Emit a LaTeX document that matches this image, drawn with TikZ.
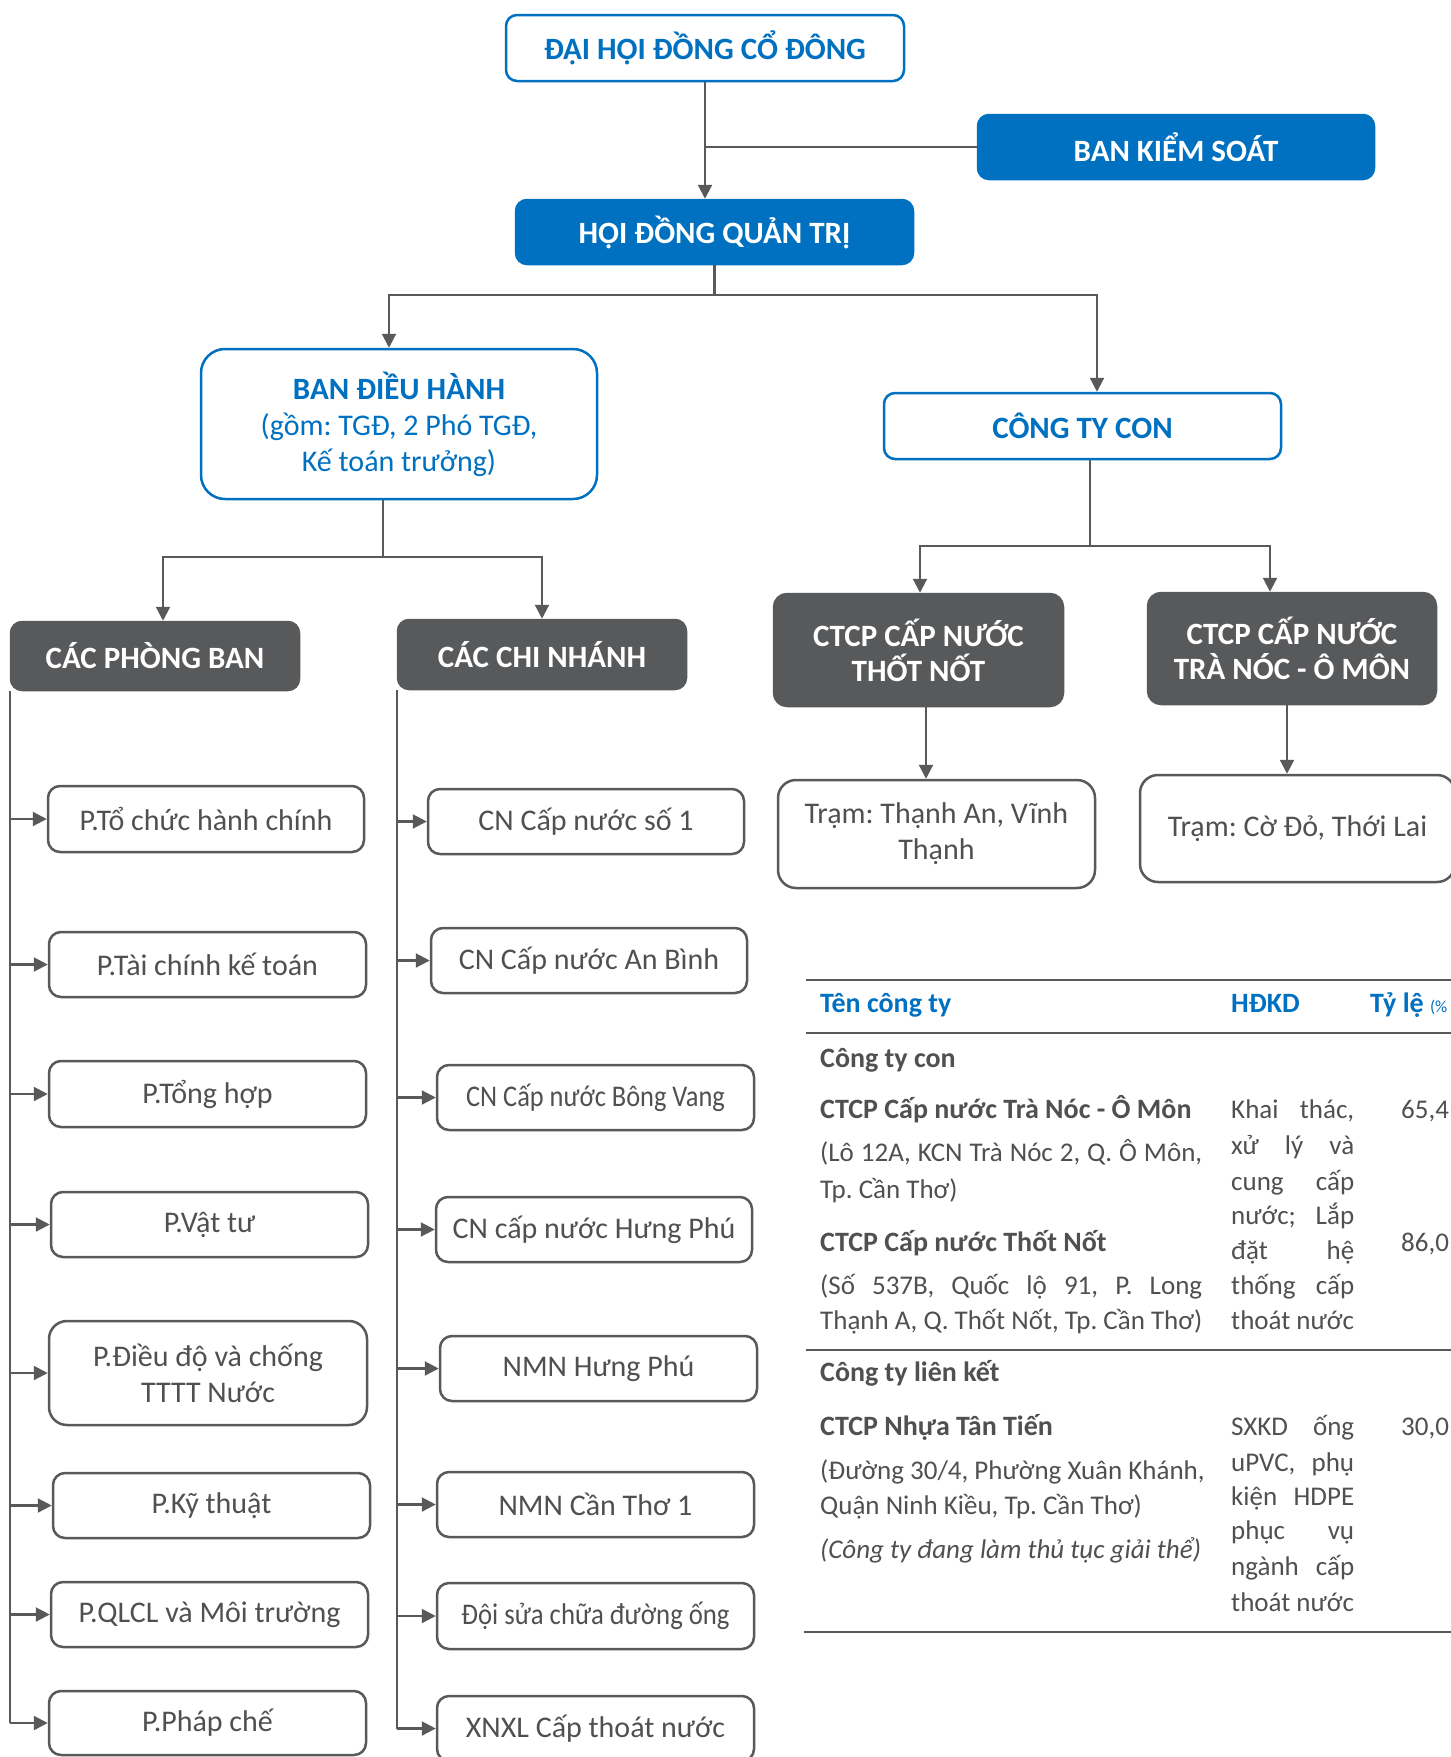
\documentclass[tikz,border=0pt]{standalone}
\usepackage{fontspec}
\setmainfont{Carlito}
\usetikzlibrary{arrows.meta,calc}
\definecolor{cblue}{HTML}{0070C0}
\definecolor{cgray}{HTML}{58595B}
\definecolor{tgray}{HTML}{505050}
\begin{document}
\frenchspacing
\begin{tikzpicture}[x=1pt,y=-1pt,
 conn/.style={draw=cgray,line width=2.2pt},
 arr/.style={conn,-{Triangle[length=14pt,width=14pt]}},
 bx/.style={rectangle,inner sep=0pt,align=center,line width=2.5pt},
 bluebox/.style={bx,draw=cblue,fill=white,text=cblue,rounded corners=11pt,font=\fontsize{31}{36}\selectfont\bfseries},
 bluefill/.style={bx,draw=cblue,fill=cblue,text=white,rounded corners=11pt,font=\fontsize{31}{36}\selectfont\bfseries},
 darkbox/.style={bx,draw=cgray,fill=cgray,text=white,rounded corners=13pt,font=\fontsize{31}{35}\selectfont\bfseries},
 wbox/.style={bx,draw=cgray,fill=white,text=tgray,rounded corners=12pt,font=\fontsize{30}{36}\selectfont},
 tbody/.style={anchor=west,inner sep=0pt,text=tgray,font=\fontsize{27}{34}\selectfont,text height=18pt,text depth=7pt},
 tbold/.style={tbody,font=\fontsize{28}{34}\selectfont\bfseries},
 thead/.style={tbold,text=cblue},
 tline/.style={draw=cgray,line width=2.5pt}
]
\fill[white] (0,0) rectangle (1451,1757);
\useasboundingbox (0,0) rectangle (1451,1757);

% top level
\node[bluebox,minimum width=398pt,minimum height=66pt] (dh) at (705,48) {ĐẠI HỘI ĐỒNG CỔ ĐÔNG};
\node[bluefill,minimum width=396pt,minimum height=64pt] (bks) at (1176,147) {BAN KIỂM SOÁT};
\node[bluefill,minimum width=397pt,minimum height=64pt] (hdqt) at (714.5,232) {HỘI ĐỒNG QUẢN TRỊ};
\node[bluebox,rounded corners=24pt,minimum width=396pt,minimum height=150pt,font=\fontsize{30}{36}\selectfont] (bdh) at (399,424)
  {{\fontsize{31}{36}\selectfont\bfseries BAN ĐIỀU HÀNH}\\(gồm: TGĐ, 2 Phó TGĐ,\\Kế toán trưởng)};
\node[bluebox,minimum width=397pt,minimum height=66pt] (cty) at (1082.5,426) {CÔNG TY CON};

\node[darkbox,rounded corners=11pt,minimum width=288pt,minimum height=68pt] (pb) at (155,656) {CÁC PHÒNG BAN};
\node[darkbox,rounded corners=11pt,minimum width=288pt,minimum height=69pt] (cn) at (542,654.5) {CÁC CHI NHÁNH};
\node[darkbox,minimum width=289pt,minimum height=112pt] (tn) at (918.5,650) {CTCP CẤP NƯỚC\\THỐT NỐT};
\node[darkbox,minimum width=288pt,minimum height=111pt] (tr) at (1292,648.5) {CTCP CẤP NƯỚC\\TRÀ NÓC - Ô MÔN};
\node[wbox,rounded corners=18pt,minimum width=317pt,minimum height=108pt,font=\fontsize{30}{36}\selectfont] (s1) at (936.5,834) {Trạm: Thạnh An, Vĩnh\\Thạnh};
\node[wbox,rounded corners=18pt,minimum width=315pt,minimum height=107pt] (s2) at (1297.5,828.5) {Trạm: Cờ Đỏ, Thới Lai};

% phong ban
\node[wbox,minimum width=316pt,minimum height=66pt] (p1) at (206,819) {P.Tổ chức hành chính};
\node[wbox,minimum width=317pt,minimum height=65pt] (p2) at (207.5,964.5) {P.Tài chính kế toán};
\node[wbox,minimum width=317pt,minimum height=66pt] (p3) at (207.5,1094) {P.Tổng hợp};
\node[wbox,minimum width=317pt,minimum height=65pt] (p4) at (209.5,1224.5) {P.Vật tư};
\node[wbox,rounded corners=18pt,minimum width=318pt,minimum height=104pt] (p5) at (208,1373) {P.Điều độ và chống\\TTTT Nước};
\node[wbox,minimum width=317pt,minimum height=65pt] (p6) at (211.5,1505.5) {P.Kỹ thuật};
\node[wbox,minimum width=317pt,minimum height=65pt] (p7) at (209.5,1614.5) {P.QLCL và Môi trường};
\node[wbox,minimum width=317pt,minimum height=64pt] (p8) at (207.5,1723) {P.Pháp chế};

% chi nhanh
\node[wbox,minimum width=316pt,minimum height=65pt] (c1) at (586,821.5) {CN Cấp nước số 1};
\node[wbox,minimum width=316pt,minimum height=65pt] (c2) at (589,960.5) {CN Cấp nước An Bình};
\node[wbox,minimum width=317pt,minimum height=65pt] (c3) at (595.5,1097.5) {\scalebox{0.88}[1]{CN Cấp nước Bông Vang}};
\node[wbox,minimum width=316pt,minimum height=65pt] (c4) at (594,1229.5) {CN cấp nước Hưng Phú};
\node[wbox,minimum width=317pt,minimum height=65pt] (c5) at (598.5,1368.5) {NMN Hưng Phú};
\node[wbox,minimum width=317pt,minimum height=65pt] (c6) at (595.5,1504.5) {NMN Cần Thơ 1};
\node[wbox,minimum width=317pt,minimum height=66pt] (c7) at (595.5,1616) {\scalebox{0.89}[1]{Đội sửa chữa đường ống}};
\node[wbox,minimum width=317pt,minimum height=65pt] (c8) at (595.5,1728.5) {XNXL Cấp thoát nước};

% connectors top
\draw[arr] (dh.south) -- (dh.south |- hdqt.north);
\draw[conn] (dh.south |- bks.west) -- (bks.west);
\coordinate (j1) at (714.5,295);
\draw[conn] (hdqt.south) -- (j1);
\draw[arr] (j1) -| ([xshift=-10pt]bdh.north);
\draw[arr] (j1) -| ([xshift=14.5pt]cty.north);
\coordinate (j2) at (383,557);
\draw[conn] ([xshift=-16pt]bdh.south) -- (j2);
\draw[arr] (j2) -| ([xshift=8pt]pb.north);
\draw[arr] (j2) -| (cn.north);
\coordinate (j3) at (1090,546);
\draw[conn] ([xshift=7.5pt]cty.south) -- (j3);
\draw[arr] (j3) -| ([xshift=1.5pt]tn.north);
\draw[arr] (j3) -| ([xshift=-22pt]tr.north);
\draw[arr] ([xshift=7.5pt]tn.south) -- ([xshift=7.5pt]tn.south |- s1.north);
\draw[arr] ([xshift=-5pt]tr.south) -- ([xshift=-5pt]tr.south |- s2.north);

% spines
\draw[conn] (pb.south west) -- (pb.south west |- p8.west);
\foreach \n in {p1,p2,p3,p4,p5,p6,p7,p8}
  \draw[arr] (pb.south west |- \n.west) -- (\n.west);
\draw[conn] (cn.south west) -- (cn.south west |- c8.west);
\foreach \n in {c1,c2,c3,c4,c5,c6,c7,c8}
  \draw[arr] (cn.south west |- \n.west) -- (\n.west);

% table
\draw[tline] (806,980) -- (1460,980);
\draw[tline] (806,1033) -- (1460,1033);
\draw[tline] (806,1350) -- (1460,1350);
\draw[tline] (804,1632) -- (1460,1632);

\node[thead] (h1) at (820,1007) {Tên công ty};
\node[thead] (h2) at (1231,1007) {HĐKD};
\node[thead] (h3) at (1370,1007) {Tỷ lệ {\fontsize{17}{20}\selectfont\mdseries (\%}};

\node[tbold] (g1) at (820,1062) {Công ty con};
\node[tbold] (a1) at (820,1113) {CTCP Cấp nước Trà Nóc - Ô Môn};
\node[tbody] (a2) at (820,1156) {\makebox[382pt][s]{(Lô 12A, KCN Trà Nóc 2, Q. Ô Môn,}};
\node[tbody] (a3) at (820,1193) {Tp. Cần Thơ)};
\node[tbold] (b1) at (820,1246) {CTCP Cấp nước Thốt Nốt};
\node[tbody] (b2) at (820,1289) {\makebox[382pt][s]{(Số 537B, Quốc lộ 91, P. Long}};
\node[tbody] (b3) at (820,1324) {Thạnh A, Q. Thốt Nốt, Tp. Cần Thơ)};

\node[tbody] (k1) at (1231,1113) {\makebox[123pt][s]{Khai thác,}};
\node[tbody] (k2) at (1231,1149) {\makebox[123pt][s]{xử lý và}};
\node[tbody] (k3) at (1231,1185) {\makebox[123pt][s]{cung cấp}};
\node[tbody] (k4) at (1231,1219) {\makebox[123pt][s]{nước; Lắp}};
\node[tbody] (k5) at (1231,1254) {\makebox[123pt][s]{đặt hệ}};
\node[tbody] (k6) at (1231,1289) {\makebox[123pt][s]{thống cấp}};
\node[tbody] (k7) at (1231,1324) {thoát nước};
\node[tbody] (r1) at (1401,1113) {65,4};
\node[tbody] (r2) at (1401,1246) {86,0};

\node[tbold] (g2) at (820,1376) {Công ty liên kết};
\node[tbold] (d1) at (820,1430) {CTCP Nhựa Tân Tiến};
\node[tbody] (d2) at (820,1474) {(Đường 30/4, Phường Xuân Khánh,};
\node[tbody] (d3) at (820,1509) {Quận Ninh Kiều, Tp. Cần Thơ)};
\node[tbody] (d4) at (820,1553) {\itshape (Công ty đang làm thủ tục giải thể)};
\node[tbody] (m1) at (1231,1430) {\makebox[123pt][s]{SXKD ống}};
\node[tbody] (m2) at (1231,1466) {\makebox[123pt][s]{uPVC, phụ}};
\node[tbody] (m3) at (1231,1500) {\makebox[123pt][s]{kiện HDPE}};
\node[tbody] (m4) at (1231,1534) {\makebox[123pt][s]{phục vụ}};
\node[tbody] (m5) at (1231,1570) {\makebox[123pt][s]{ngành cấp}};
\node[tbody] (m6) at (1231,1606) {thoát nước};
\node[tbody] (r3) at (1401,1430) {30,0};
\end{tikzpicture}
\end{document}
